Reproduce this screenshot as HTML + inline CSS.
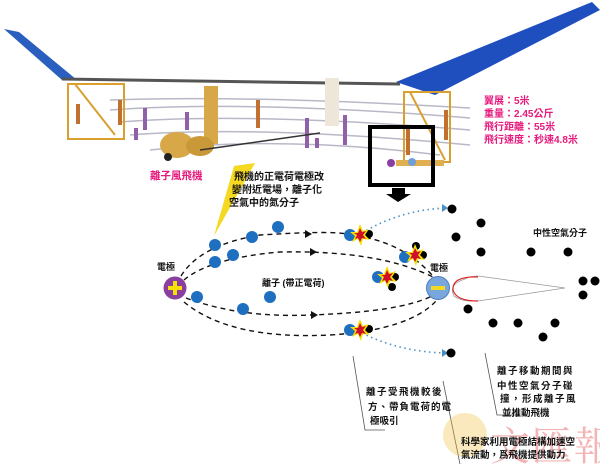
<!DOCTYPE html>
<html><head><meta charset="utf-8"><style>
html,body{margin:0;padding:0;background:#fff;}
svg{display:block;font-family:"Liberation Sans","Noto Sans CJK TC",sans-serif;}
</style></head><body>
<svg width="600" height="464" viewBox="0 0 600 464" xmlns="http://www.w3.org/2000/svg">
<defs>
<g id="st"><polygon points="0,-11 3,-4 9,-6 5,0 10,5 3,4 1,11 -2,4 -8,7 -5,1 -10,-3 -3,-3" fill="#f5e000"/><polygon points="0,-7 2,-3 6,-4 3,0 6,4 2,3 0,7 -2,3 -5,4 -3,0 -6,-2 -2,-2" fill="#d0102a"/></g>
</defs>
<!-- plane -->
<polygon points="4,29 19,32 77,80 62,80" fill="#2a5fc0"/>
<polygon points="396,82 592,2 600,10 435,95" fill="#1f4fbf"/>
<line x1="62" y1="79" x2="400" y2="84" stroke="#555" stroke-width="3"/>
<g stroke="#b8b8c8" stroke-width="1.5" fill="none">
<path d="M110,100 Q250,95 470,108"/><path d="M110,110 Q250,100 470,118"/><path d="M120,122 Q250,112 470,130"/><path d="M130,135 Q260,125 470,145"/><path d="M150,150 Q280,135 440,155"/>
</g>
<g fill="#9060a8"><rect x="143" y="108" width="4" height="22"/><rect x="185" y="112" width="4" height="18"/><rect x="305" y="118" width="4" height="30"/><rect x="343" y="115" width="4" height="30"/><rect x="134" y="128" width="4" height="12"/><rect x="315" y="138" width="4" height="10"/></g>
<g stroke="#d9a030" stroke-width="2" fill="none">
<rect x="68" y="84" width="56" height="55"/><line x1="75" y1="84" x2="115" y2="135"/>
<rect x="404" y="92" width="46" height="70"/><line x1="410" y1="92" x2="445" y2="160"/>
</g>
<g fill="#c07030"><rect x="76" y="104" width="4" height="20"/><rect x="118" y="100" width="4" height="25"/><rect x="256" y="100" width="4" height="28"/><rect x="406" y="125" width="4" height="30"/><rect x="444" y="110" width="4" height="30"/></g>
<rect x="325" y="78" width="14" height="48" fill="#eee6d8"/>
<rect x="204" y="86" width="14" height="58" fill="#d8a848"/>
<ellipse cx="177" cy="145" rx="17" ry="13" fill="#d8a848"/>
<ellipse cx="200" cy="146" rx="14" ry="10" fill="#c99838"/>
<circle cx="168" cy="157" r="4" fill="#222"/>
<line x1="200" y1="150" x2="320" y2="133" stroke="#333" stroke-width="1.5"/>
<rect x="396" y="160" width="48" height="6" fill="#e0b050"/>
<circle cx="391" cy="163" r="4" fill="#8a3fa0"/><circle cx="412" cy="162" r="4" fill="#6f9fd8"/>
<rect x="370" y="127" width="63" height="58" fill="none" stroke="#000" stroke-width="4"/>
<polygon points="392,188 405,188 405,194 411,194 398,202 386,194 392,194" fill="#000"/>
<g fill="#e6197d" font-weight="bold" font-size="10">
<text x="484" y="104">翼展：5米</text><text x="484" y="117">重量：2.45公斤</text><text x="484" y="130">飛行距離：55米</text><text x="484" y="143">飛行速度：秒速4.8米</text>
<text x="150" y="179" font-size="10.5">離子風飛機</text>
</g>
<polygon points="234,166 255,163 214,236" fill="#f5d820"/>
<g font-size="10" font-weight="bold" fill="#111">
<text x="234" y="180">飛機的正電荷電極改</text><text x="232" y="193">變附近電場，離子化</text><text x="229" y="206">空氣中的氮分子</text>
</g>
<!-- dashed paths -->
<g fill="none" stroke="#111" stroke-width="1.4" stroke-dasharray="5,4">
<path d="M181,276 Q200,245 260,235 Q340,230 350,235 Q400,240 432,275"/>
<path d="M184,280 Q210,258 280,252 Q380,250 435,278"/>
<path d="M186,298 Q240,318 310,315 Q400,312 432,296"/>
<path d="M184,302 Q230,340 330,335 Q410,330 437,300"/>
</g>
<g fill="#111"><polygon points="305,230 312,234 305,238"/><polygon points="310,248 317,252 310,256"/><polygon points="311,311 318,315 311,319"/></g>
<g fill="none" stroke="#4a90c8" stroke-width="1.6" stroke-dasharray="1.5,3.5">
<path d="M362,233 Q400,210 446,208"/><path d="M362,333 Q400,352 446,353"/>
</g>
<polygon points="442,204 448,208 442,212" fill="#4a90c8"/><polygon points="442,349 448,353 442,357" fill="#4a90c8"/>
<!-- black molecules -->
<g fill="#000">
<circle cx="452" cy="209" r="4.5"/><circle cx="481" cy="223" r="4.5"/><circle cx="456" cy="237" r="4.5"/><circle cx="481" cy="252" r="4.5"/><circle cx="531" cy="252" r="4.5"/><circle cx="568" cy="252" r="4.5"/><circle cx="583" cy="281" r="4.5"/><circle cx="595" cy="281" r="4.5"/><circle cx="583" cy="295" r="4.5"/><circle cx="468" cy="309" r="4.5"/><circle cx="493" cy="323" r="4.5"/><circle cx="518" cy="323" r="4.5"/><circle cx="555" cy="323" r="4.5"/><circle cx="543" cy="337" r="4.5"/><circle cx="451" cy="353" r="4.5"/>
<circle cx="369" cy="234" r="4"/><circle cx="416" cy="246" r="4"/><circle cx="423" cy="255" r="4"/><circle cx="395" cy="277" r="4"/><circle cx="392" cy="287" r="4"/><circle cx="369" cy="329" r="4"/>
</g>
<!-- blue ions -->
<g fill="#1f6fc0">
<circle cx="215" cy="245" r="6"/><circle cx="252" cy="237" r="6"/><circle cx="278" cy="227" r="6"/><circle cx="350" cy="235" r="6"/><circle cx="233" cy="255" r="6"/><circle cx="215" cy="262" r="6"/><circle cx="197" cy="297" r="6"/><circle cx="270" cy="297" r="6"/><circle cx="243" cy="309" r="6"/><circle cx="350" cy="330" r="6"/><circle cx="378" cy="277" r="6"/><circle cx="405" cy="257" r="6"/>
</g>
<use href="#st" x="360" y="235"/><use href="#st" x="415" y="255"/><use href="#st" x="387" y="277"/><use href="#st" x="360" y="330"/>
<!-- electrodes -->
<circle cx="175" cy="288" r="11.5" fill="#8a3fa0"/>
<rect x="168" y="286" width="14" height="4" fill="#f5e000"/><rect x="173" y="281" width="4" height="14" fill="#f5e000"/>
<circle cx="438" cy="288" r="11.5" fill="#7aa6de" stroke="#4a7fc0"/>
<rect x="431" y="286" width="14" height="4" fill="#f5d820"/>
<path d="M465,279 Q448,284 454,296 Q462,302 478,301 L565,288 L478,276 Q470,276 465,279 Z" fill="none" stroke="#999" stroke-width="0.8"/>
<path d="M478,277 Q452,276 453,290 Q456,301 478,301" fill="none" stroke="#e02020" stroke-width="1.2"/>
<g font-size="9" font-weight="bold" fill="#111">
<text x="157" y="270">電極</text><text x="430" y="271">電極</text>
<text x="262" y="286">離子 (帶正電荷)</text>
<text x="533" y="236">中性空氣分子</text>
</g>
<!-- callouts -->
<g stroke="#555" stroke-width="0.8" fill="none">
<polyline points="353,356 365,430 385,430"/>
<polyline points="485,353 497,415 520,415"/>
<polyline points="443,381 460,464"/>
</g>
<g font-size="9.5" font-weight="bold" fill="#111">
<text x="366" y="395" letter-spacing="1.5">離子受飛機較後</text><text x="368" y="410" letter-spacing="1">方、帶負電荷的電</text><text x="370" y="424">極吸引</text>
<text x="497" y="374" letter-spacing="1.5">離子移動期間與</text><text x="497" y="389" letter-spacing="1.5">中性空氣分子碰</text><text x="500" y="402" letter-spacing="1.5">撞，形成離子風</text><text x="502" y="416">並推動飛機</text>
</g>
<circle cx="465" cy="435" r="22" fill="#f0c040" opacity="0.35"/>
<text x="490" y="460" font-size="40" font-family="'Noto Serif CJK SC',serif" fill="#e87878" opacity="0.55" letter-spacing="2">文匯報</text>
<g font-size="9.5" font-weight="bold" fill="#111">
<text x="461" y="445">科學家利用電極結構加速空</text><text x="461" y="458">氣流動，爲飛機提供動力</text>
</g>
</svg>
</body></html>
